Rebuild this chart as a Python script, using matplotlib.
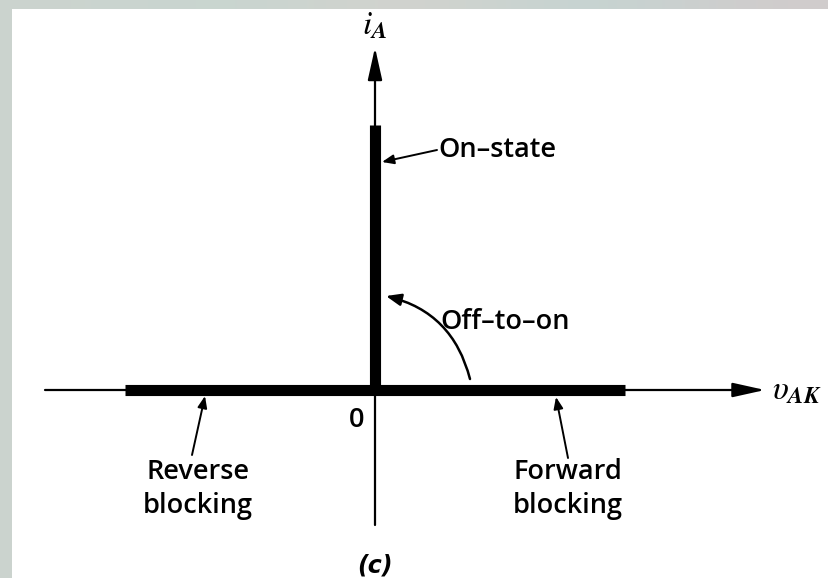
import matplotlib.pyplot as plt
import numpy as np
from matplotlib.patches import Rectangle

plt.rcParams["mathtext.fontset"] = "stix"

# idealized thyristor i-v characteristic (schematic units)
reverse_v = [-5.0, 0.0]
reverse_i = [0.0, 0.0]
forward_v = [0.0, 5.0]
forward_i = [0.0, 0.0]
on_state_v = [0.0, 0.0]
on_state_i = [0.0, 5.3]

v_axis = [-6.6, 7.8]
i_axis = [-2.7, 6.85]

labels = ["On\u2013state", "Off\u2013to\u2013on", "Reverse\nblocking", "Forward\nblocking"]

fig = plt.figure(figsize=(8.29, 5.78), dpi=100)
ax = fig.add_axes([0, 0, 1, 1])
ax.set_xlim(-7.5, 9.08)
ax.set_ylim(-3.76, 7.8)
ax.axis("off")

# scanned-page frame: grey-green strip on top and left
strip = np.array([[0.80, 0.83, 0.81], [0.78, 0.84, 0.82], [0.84, 0.82, 0.80],
                  [0.76, 0.84, 0.83], [0.82, 0.80, 0.80]])
ax.imshow(strip[None, :, :], extent=(-7.5, 9.08, -3.76, 7.8), aspect="auto",
          interpolation="bicubic", zorder=0)
ax.add_patch(Rectangle((-7.26, -3.76), 17.0, 11.38, facecolor="white",
                       edgecolor="none", zorder=1))

# axes with arrow heads
arrow = dict(arrowstyle="-|>,head_length=0.9,head_width=0.2", lw=1.6,
             color="black", mutation_scale=22, shrinkA=0, shrinkB=0)
ax.annotate("", xy=(v_axis[1], 0), xytext=(v_axis[0], 0), arrowprops=arrow, zorder=3)
ax.annotate("", xy=(0, i_axis[1]), xytext=(0, i_axis[0]), arrowprops=arrow, zorder=3)

# thick characteristic segments
seg = dict(color="black", lw=8, solid_capstyle="butt", zorder=4)
ax.plot(reverse_v, reverse_i, **seg)
ax.plot(forward_v, forward_i, **seg)
ax.plot(on_state_v, on_state_i, **seg)

ax.text(0, 7.3, r"$i_{\boldsymbol{A}}$", fontsize=24, ha="center", va="center", zorder=5)
ax.text(7.94, 0.0, r"$\upsilon_{\boldsymbol{AK}}$", fontsize=24, ha="left",
        va="center", zorder=5)

text_kw = dict(fontsize=19.5, family="Open Sans", weight="semibold", color="black", zorder=5)
ax.text(-0.36, -0.6, "0", ha="center", va="center", **text_kw)
ax.text(0, -3.5, "(c)", fontsize=17, style="italic", weight="bold",
        family="DejaVu Sans", ha="center", va="center", zorder=5)

leader = dict(arrowstyle="-|>,head_length=0.5,head_width=0.2", lw=1.4,
              color="black", mutation_scale=14, shrinkA=0, shrinkB=0)

# on-state leader
ax.annotate("", xy=(0.14, 4.56), xytext=(1.24, 4.8), arrowprops=leader, zorder=5)
ax.text(1.26, 4.8, labels[0], ha="left", va="center", **text_kw)

# switching from off to on
curved = dict(leader, connectionstyle="arc3,rad=0.3", lw=1.8, mutation_scale=18)
ax.annotate("", xy=(0.22, 1.88), xytext=(1.9, 0.22), arrowprops=curved, zorder=5)
ax.text(1.3, 1.36, labels[1], ha="left", va="center", **text_kw)

# blocking regions
ax.annotate("", xy=(-3.4, -0.12), xytext=(-3.66, -1.3), arrowprops=leader, zorder=5)
ax.text(-3.54, -1.98, labels[2], ha="center", va="center", linespacing=1.3, **text_kw)
ax.annotate("", xy=(3.62, -0.14), xytext=(3.86, -1.36), arrowprops=leader, zorder=5)
ax.text(3.86, -1.98, labels[3], ha="center", va="center", linespacing=1.3, **text_kw)

fig.savefig("out.png", dpi=100)
